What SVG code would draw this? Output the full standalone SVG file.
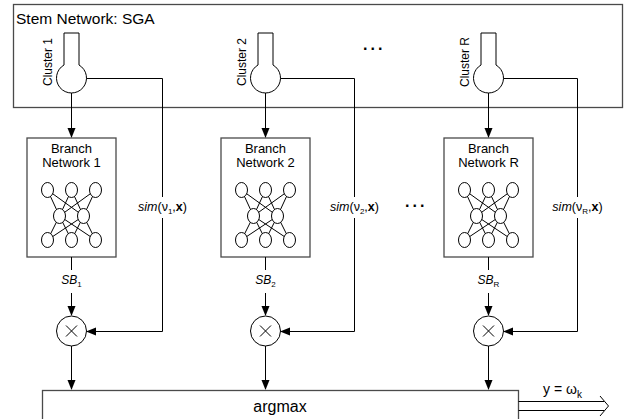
<svg xmlns="http://www.w3.org/2000/svg" xmlns:xlink="http://www.w3.org/1999/xlink" width="641" height="419" viewBox="0 0 641 419">
<style>
text{font-family:"Liberation Sans",Arial,sans-serif;fill:#000}
.box{fill:#fff;stroke:#4a4a4a;stroke-width:1.3}
.shape{fill:#fff;stroke:#000;stroke-width:1}
.ln{fill:none;stroke:#000;stroke-width:1}
.lbl{font-size:12px;text-anchor:middle}
.br{font-size:13px;text-anchor:middle}
.it{font-style:italic}
.dots{font-size:16px;font-weight:bold;letter-spacing:3px}
</style>
<defs>
<marker id="ah" markerWidth="10" markerHeight="10" refX="9" refY="4" orient="auto" markerUnits="userSpaceOnUse" viewBox="0 0 10 8">
<path d="M0,0 L10,4 L0,8 Z" fill="#000"/>
</marker>
<g id="nn">
<g class="ln">
<path d="M-24,-26 L-12,0 M-24,-26 L12,0 M0,-26 L-12,0 M0,-26 L12,0 M24,-26 L-12,0 M24,-26 L12,0"/>
<path d="M-24,24 L-12,0 M-24,24 L12,0 M0,24 L-12,0 M0,24 L12,0 M24,24 L-12,0 M24,24 L12,0"/>
</g>
<g class="shape">
<ellipse cx="-24" cy="-26" rx="6" ry="7.5"/><ellipse cx="0" cy="-26" rx="6" ry="7.5"/><ellipse cx="24" cy="-26" rx="6" ry="7.5"/>
<ellipse cx="-12" cy="0" rx="6" ry="7.5"/><ellipse cx="12" cy="0" rx="6" ry="7.5"/>
<ellipse cx="-24" cy="24" rx="6" ry="7.5"/><ellipse cx="0" cy="24" rx="6" ry="7.5"/><ellipse cx="24" cy="24" rx="6" ry="7.5"/>
</g>
</g>
<path id="thermo" d="M-7.5,-13 V-45 H7.5 V-13 A15,15 0 1,1 -7.5,-13 Z"/>
<g id="mult"><circle r="15" class="shape"/><path class="ln" d="M-5.5,-5.5 L5.5,5.5 M5.5,-5.5 L-5.5,5.5"/></g>
</defs>

<g id="stem">
<rect class="box" x="13.5" y="4.5" width="609" height="103"/>
<text x="16" y="24" font-size="15.5px">Stem Network: SGA</text>
<text class="dots" x="363" y="50">...</text>
</g>

<g id="cluster1">
<use xlink:href="#thermo" x="71.5" y="78" class="shape"/>
<text class="lbl" transform="translate(51.5,62) rotate(-90)">Cluster 1</text>
</g>
<g id="cluster2">
<use xlink:href="#thermo" x="265.5" y="78" class="shape"/>
<text class="lbl" transform="translate(245.5,62) rotate(-90)">Cluster 2</text>
</g>
<g id="clusterR">
<use xlink:href="#thermo" x="488.5" y="78" class="shape"/>
<text class="lbl" transform="translate(468.5,62) rotate(-90)">Cluster R</text>
</g>

<g id="branch1">
<rect class="box" x="27" y="138" width="89" height="119"/>
<text class="br" x="71.5" y="153">Branch</text>
<text class="br" x="71.5" y="167">Network 1</text>
<use xlink:href="#nn" x="71.5" y="216"/>
</g>
<g id="branch2">
<rect class="box" x="221" y="138" width="89" height="119"/>
<text class="br" x="265.5" y="153">Branch</text>
<text class="br" x="265.5" y="167">Network 2</text>
<use xlink:href="#nn" x="265.5" y="216"/>
</g>
<g id="branchR">
<rect class="box" x="444" y="138" width="89" height="119"/>
<text class="br" x="488.5" y="153">Branch</text>
<text class="br" x="488.5" y="167">Network R</text>
<use xlink:href="#nn" x="488.5" y="216"/>
</g>
<text class="dots" x="405" y="207">...</text>

<g id="mult1"><use xlink:href="#mult" x="71.5" y="331"/></g>
<g id="mult2"><use xlink:href="#mult" x="265.5" y="331"/></g>
<g id="multR"><use xlink:href="#mult" x="488.5" y="331"/></g>

<g id="argmax">
<rect class="box" x="42.5" y="390.5" width="476" height="40"/>
<text x="280" y="412" font-size="16px" text-anchor="middle">argmax</text>
</g>

<g id="labels" font-size="12.5px">
<text x="162.5" y="211" text-anchor="middle"><tspan class="it">sim</tspan>(ν<tspan font-size="8px" dy="3">1</tspan><tspan dy="-3">,</tspan><tspan font-weight="bold">x</tspan>)</text>
<text x="354.5" y="211" text-anchor="middle"><tspan class="it">sim</tspan>(ν<tspan font-size="8px" dy="3">2</tspan><tspan dy="-3">,</tspan><tspan font-weight="bold">x</tspan>)</text>
<text x="577.5" y="211" text-anchor="middle"><tspan class="it">sim</tspan>(ν<tspan font-size="8px" dy="3">R</tspan><tspan dy="-3">,</tspan><tspan font-weight="bold">x</tspan>)</text>
<text x="71.5" y="284" text-anchor="middle" font-size="12px"><tspan class="it">SB</tspan><tspan font-size="8px" dy="3">1</tspan></text>
<text x="265.5" y="284" text-anchor="middle" font-size="12px"><tspan class="it">SB</tspan><tspan font-size="8px" dy="3">2</tspan></text>
<text x="488.5" y="284" text-anchor="middle" font-size="12px"><tspan class="it">SB</tspan><tspan font-size="8px" dy="3">R</tspan></text>
<text x="543" y="394" font-size="14px">y = ω<tspan font-size="10px" dy="4">k</tspan></text>
</g>

<g id="connectors" class="ln">
<path d="M71.5,93 V137" marker-end="url(#ah)"/>
<path d="M265.5,93 V137" marker-end="url(#ah)"/>
<path d="M488.5,93 V137" marker-end="url(#ah)"/>
<path d="M71.5,257 V270 M265.5,257 V270 M488.5,257 V270"/>
<path d="M71.5,293 V315" marker-end="url(#ah)"/>
<path d="M265.5,293 V315" marker-end="url(#ah)"/>
<path d="M488.5,293 V315" marker-end="url(#ah)"/>
<path d="M71.5,346 V389" marker-end="url(#ah)"/>
<path d="M265.5,346 V389" marker-end="url(#ah)"/>
<path d="M488.5,346 V389" marker-end="url(#ah)"/>
<path d="M86.5,78.5 H162.5 V197 M162.5,218 V331.5 H87" marker-end="url(#ah)"/>
<path d="M280.5,78.5 H354.5 V197 M354.5,218 V331.5 H281" marker-end="url(#ah)"/>
<path d="M503.5,78.5 H577.5 V197 M577.5,218 V331.5 H504" marker-end="url(#ah)"/>
<path d="M518.5,401.5 H604 M518.5,410.5 H604 M600,396 L608.5,406 L600,416"/>
</g>
</svg>
